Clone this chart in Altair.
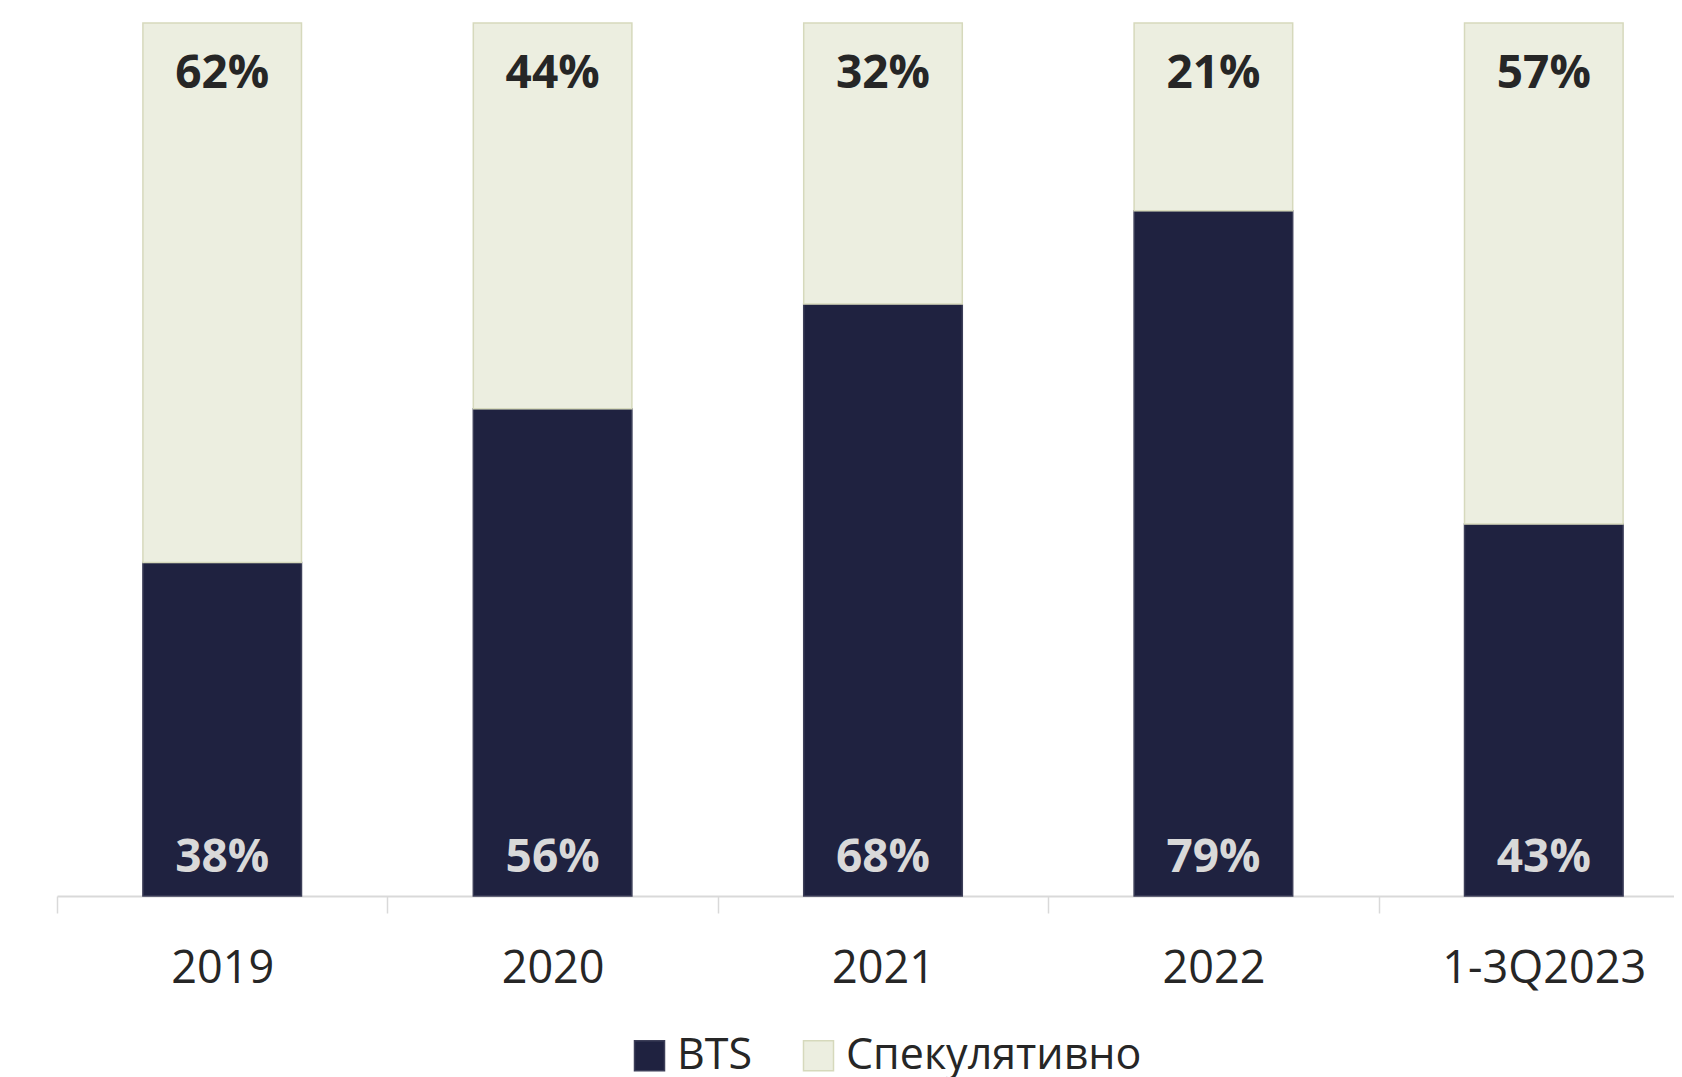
import altair as alt
import pandas as pd

categories = ["2019", "2020", "2021", "2022", "1-3Q2023"]
bts_share = [38.2, 55.8, 67.8, 78.5, 42.6]
spec_share = [61.8, 44.2, 32.2, 21.5, 57.4]
bts_labels = ["38%", "56%", "68%", "79%", "43%"]
spec_labels = ["62%", "44%", "32%", "21%", "57%"]
series_names = ["BTS", "Спекулятивно"]

rows = []
for c, b, s in zip(categories, bts_share, spec_share):
    rows.append({"cat": c, "series": series_names[0], "value": b, "ord": 0})
    rows.append({"cat": c, "series": series_names[1], "value": s, "ord": 1})
df = pd.DataFrame(rows)

FONT = "Open Sans"
DARK = "#1f2240"
LIGHT = "#eceee0"
STEP = 1652 / 5

x_enc = alt.X(
    "cat:N",
    sort=categories,
    title=None,
    scale=alt.Scale(range=[0, 1652], paddingInner=0.52, paddingOuter=0.26),
    axis=alt.Axis(
        labelAngle=0,
        labelFont=FONT,
        labelFontSize=45,
        labelColor="#262626",
        labelPadding=33,
        labelLimit=500,
        labelOffset=STEP / 2,
        tickOffset=-STEP / 2,
        tickSize=17,
        tickColor="#d9d9d9",
        tickWidth=1.5,
        domainColor="#d9d9d9",
        domainWidth=2,
        grid=False,
    ),
)

bars = alt.Chart(df).mark_bar(strokeWidth=1.5).encode(
    x=x_enc,
    y=alt.Y("value:Q", stack="zero", scale=alt.Scale(domain=[0, 100]), axis=None),
    color=alt.Color(
        "series:N",
        scale=alt.Scale(domain=series_names, range=[DARK, LIGHT]),
        legend=alt.Legend(
            title=None,
            orient="none",
            legendX=571,
            legendY=1011,
            direction="horizontal",
            symbolType="square",
            symbolSize=900,
            symbolStrokeColor="#d6d9bc",
            symbolStrokeWidth=1.5,
            labelFont=FONT,
            labelFontSize=43,
            labelColor="#262626",
            labelOffset=6,
            columnPadding=44,
            padding=0,
            labelLimit=500,
        ),
    ),
    stroke=alt.Stroke(
        "series:N",
        scale=alt.Scale(domain=series_names, range=["#3c3e58", "#d6d9bc"]),
        legend=None,
    ),
    order=alt.Order("ord:Q"),
)

df_top = pd.DataFrame({"cat": categories, "value": [100] * len(categories),
                       "label": spec_labels})
df_bot = pd.DataFrame({"cat": categories, "value": [0] * len(categories),
                       "label": bts_labels})

top_text = alt.Chart(df_top).mark_text(
    font=FONT, fontSize=46, fontWeight="bold", color="#262626",
    baseline="middle", dy=51
).encode(x=alt.X("cat:N", sort=categories), y=alt.Y("value:Q"), text="label:N")

bot_text = alt.Chart(df_bot).mark_text(
    font=FONT, fontSize=46, fontWeight="bold", color="#d9d9d9",
    baseline="middle", dy=-38
).encode(x=alt.X("cat:N", sort=categories), y=alt.Y("value:Q"), text="label:N")

chart = alt.layer(bars, top_text, bot_text).properties(
    width=1617,
    height=873,
    autosize=alt.AutoSizeParams(type="none"),
    padding={"left": 49, "top": 15, "right": 0, "bottom": 181},
).configure_view(stroke=None)

chart.save("out.html", embed_options={"renderer": "svg", "actions": False})
